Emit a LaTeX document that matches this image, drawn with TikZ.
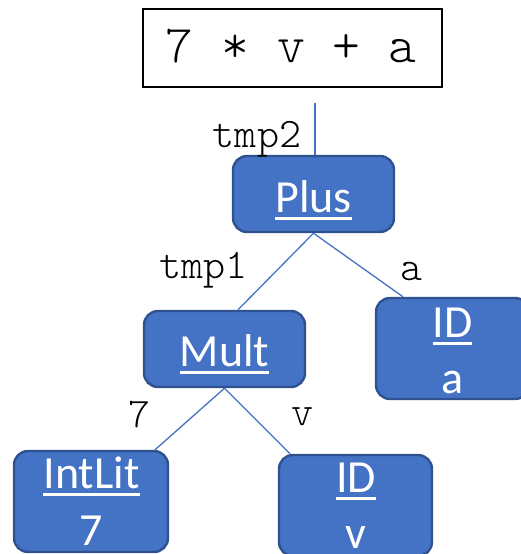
\documentclass[tikz,border=0pt]{standalone}
\usepackage{fontspec}
\setmainfont{Carlito}
\newfontfamily\codefont{Latin Modern Mono Light}
\definecolor{boxfill}{HTML}{4472C4}
\definecolor{boxline}{HTML}{2F528F}
% thick underline placed below the baseline
\newcommand\ulword[1]{\setbox0=\hbox{#1}\rlap{\rule[-7.5pt]{\wd0}{3pt}}\box0}
\begin{document}
\begin{tikzpicture}[x=1pt,y=-1pt,
  astbox/.style={rectangle, rounded corners=14pt, fill=boxfill, draw=boxline,
    line width=2.4pt, inner sep=0pt},
  boxtext/.style={text=white, font=\fontsize{46}{55}\selectfont, anchor=base, inner sep=0pt},
  codebox/.style={rectangle, draw=black, line width=2.5pt, fill=white, inner sep=0pt,
    minimum width=299pt, minimum height=78pt},
  codetext/.style={font=\codefont\fontsize{53}{60}\selectfont, anchor=base, inner sep=0pt},
  edgelabel/.style={font=\codefont\fontsize{42}{48}\selectfont, anchor=base, inner sep=0pt},
  edge/.style={draw=boxfill, line width=1.3pt}]
\useasboundingbox (0,0) rectangle (521,554);
\clip (0,0) rectangle (521,554);

% source expression
\node[codebox] (expr) at (292.5,48) {};
\node[codetext] (exprT) at (291,62) {7 * v + a};

% tree nodes
\node[astbox, minimum width=161pt, minimum height=76pt] (plus) at (313.5,194) {};
\node[astbox, minimum width=161pt, minimum height=76pt] (mult) at (224.5,349) {};
\node[astbox, minimum width=153pt, minimum height=101pt] (ida) at (452.5,348.5) {};
\node[astbox, minimum width=154pt, minimum height=101pt] (intlit) at (91,501.5) {};
\node[astbox, minimum width=153pt, minimum height=101pt] (idv) at (355.5,505.5) {};

\node[boxtext] (plusT) at (313.5,212) {\ulword{Plus}};
\node[boxtext] (multT) at (224.5,366) {\ulword{Mult}};
\node[boxtext] (idaT1) at (452.5,337) {\ulword{ID}};
\node[boxtext] (idaT2) at (452.5,393) {a};
\node[boxtext] (intlitT1) at (91.5,488) {\ulword{IntLit}};
\node[boxtext] (intlitT2) at (91.5,545) {7};
\node[boxtext] (idvT1) at (356,492) {\ulword{ID}};
\node[boxtext] (idvT2) at (356,548) {v};

% connectors
\coordinate (root) at (315,103);
\draw[edge] (root) -- ([xshift=1.5pt]plus.north);
\draw[edge] (plus.south) -- ([xshift=13.5pt]mult.north);
\draw[edge] (plus.south) -- ([xshift=-49.5pt]ida.north);
\draw[edge] (mult.south) -- ([xshift=64pt]intlit.north);
\draw[edge] (mult.south) -- ([xshift=-65.5pt]idv.north);

% edge labels
\node[edgelabel] (lTmp2) at (257,147) {tmp2};
\node[edgelabel] (lTmp1) at (203.5,278) {tmp1};
\node[edgelabel] (lA) at (411.5,280) {a};
\node[edgelabel] (lSeven) at (139.5,427) {7};
\node[edgelabel] (lV) at (303,425) {v};
\end{tikzpicture}
\end{document}
